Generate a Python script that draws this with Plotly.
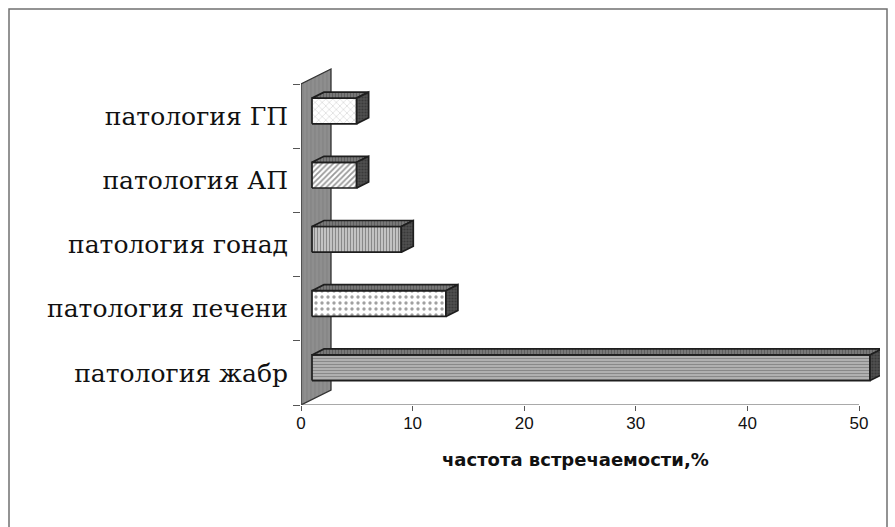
import plotly.graph_objects as go

# ---- data ----
categories = ["патология жабр", "патология печени", "патология гонад", "патология АП", "патология ГП"]
values = [50, 12, 8, 4, 4]
x_ticks = [0, 10, 20, 30, 40, 50]
x_title = "частота встречаемости,%"

# ---- pseudo-3D geometry (in axis units) ----
PX_X = 558 / 50.0          # pixels per x unit
PX_Y = 64.2                # pixels per category
base = 11 / PX_X           # front-face start (depth offset)
ddx, ddy = 12 / PX_X, 6 / PX_Y     # bar depth
wdx, wdy = 30 / PX_X, 15 / PX_Y    # wall depth
lo, hi = -0.12, 0.28       # front face extent around category position

patterns = [
    dict(shape="-", fgcolor="#555555", bgcolor="#bdbdbd", size=3, solidity=0.5),
    dict(shape=".", fgcolor="#444444", bgcolor="white", size=6, solidity=0.25),
    dict(shape="|", fgcolor="#444444", bgcolor="#cfcfcf", size=3, solidity=0.45),
    dict(shape="/", fgcolor="#333333", bgcolor="white", size=4, solidity=0.45),
    dict(shape="x", fgcolor="#9a9a9a", bgcolor="white", size=5, solidity=0.2),
]

fig = go.Figure()

# back wall
fig.add_trace(go.Scatter(
    x=[0, wdx, wdx, 0, 0],
    y=[-0.5, -0.5 + wdy, 4.5 + wdy, 4.5, -0.5],
    mode="lines", fill="toself",
    fillcolor="#8a8a8a",
    fillpattern=dict(shape="|", fgcolor="#767676", bgcolor="#8e8e8e", size=4, solidity=0.3),
    line=dict(color="#333333", width=1.3),
    hoverinfo="skip", showlegend=False,
))

edge = dict(color="#1e1e1e", width=1.7)
for i, v in enumerate(values):
    y0, y1 = i + lo, i + hi
    x0, x1 = base, base + v
    # front face
    fig.add_trace(go.Scatter(
        x=[x0, x1, x1, x0, x0], y=[y0, y0, y1, y1, y0],
        mode="lines", fill="toself", fillpattern=patterns[i],
        line=edge, hoverinfo="skip", showlegend=False,
    ))
    # top face
    fig.add_trace(go.Scatter(
        x=[x0, x1, x1 + ddx, x0 + ddx, x0], y=[y1, y1, y1 + ddy, y1 + ddy, y1],
        mode="lines", fill="toself",
        fillpattern=dict(shape="|", fgcolor="#444444", bgcolor="#7a7a7a", size=3, solidity=0.4),
        line=edge, hoverinfo="skip", showlegend=False,
    ))
    # side face
    fig.add_trace(go.Scatter(
        x=[x1, x1 + ddx, x1 + ddx, x1, x1], y=[y0, y0 + ddy, y1 + ddy, y1, y0],
        mode="lines", fill="toself",
        fillpattern=dict(shape=".", fgcolor="#222222", bgcolor="#505050", size=3, solidity=0.4),
        line=edge, hoverinfo="skip", showlegend=False,
    ))

W, H = 895, 527
ml, mr, mt, mb = 301, 15, 60, 122
pw, ph = W - ml - mr, H - mt - mb
xmax = pw / PX_X
ymax = -0.5 + ph / PX_Y

# x axis line from 0 to 50
fig.add_shape(type="line", xref="x", yref="y", x0=0, x1=max(x_ticks), y0=-0.5, y1=-0.5,
              line=dict(color="#555555", width=1.2))
# outer frame
fig.add_shape(type="rect", xref="paper", yref="paper",
              x0=(9 - ml) / pw, x1=(887 - ml) / pw,
              y0=(H - mb - 560) / ph, y1=(H - mb - 9) / ph,
              line=dict(color="#707070", width=1.5), fillcolor="rgba(0,0,0,0)", layer="below")
# axis title (centred as in the reference)
fig.add_annotation(text=x_title, xref="paper", yref="paper",
                   x=(575 - ml) / pw, y=(H - mb - 459) / ph, showarrow=False,
                   xanchor="center", yanchor="middle",
                   font=dict(family="DejaVu Sans", size=18, color="#111111", weight="bold"))

fig.update_layout(
    width=W, height=H,
    margin=dict(l=ml, r=mr, t=mt, b=mb),
    paper_bgcolor="white", plot_bgcolor="white",
    showlegend=False,
    xaxis=dict(
        range=[0, xmax], tickmode="array", tickvals=x_ticks,
        ticks="outside", ticklen=5, tickcolor="#555555", ticklabelstandoff=-2,
        showgrid=False, zeroline=False, showline=False,
        tickfont=dict(family="Liberation Sans", size=17, color="#111111"),
    ),
    yaxis=dict(
        range=[-0.5, ymax], tickmode="array", tickvals=list(range(len(categories))),
        ticktext=categories, ticks="", ticklabelstandoff=12,
        showgrid=False, zeroline=False, showline=False,
        tickfont=dict(family="DejaVu Serif", size=25, color="#111111"),
        minor=dict(tickmode="array", tickvals=[i - 0.5 for i in range(len(categories) + 1)],
                   ticks="outside", ticklen=7, tickcolor="#555555", showgrid=False),
    ),
)

fig.write_html("out.html")
